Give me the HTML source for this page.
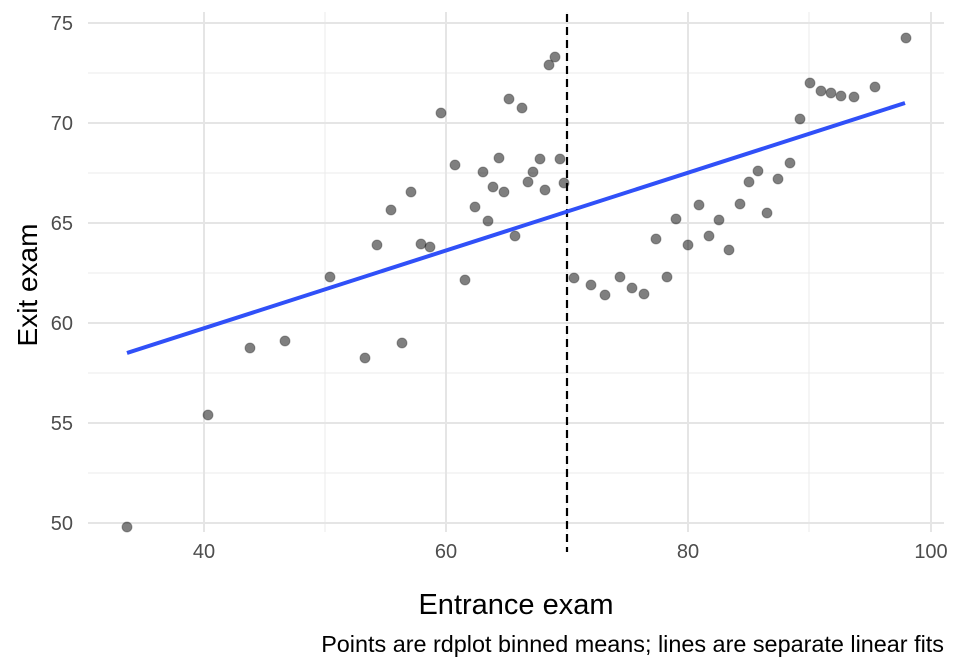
<!DOCTYPE html>
<html><head><meta charset="utf-8"><style>body{margin:0;background:#fff}svg{display:block}text{font-family:"Liberation Sans",Arial,sans-serif}</style></head><body>
<svg width="960" height="672" viewBox="0 0 960 672">
<g stroke="#ebebeb" stroke-width="1">
<line x1="88" x2="944" y1="473" y2="473"/><line x1="88" x2="944" y1="373" y2="373"/><line x1="88" x2="944" y1="273" y2="273"/><line x1="88" x2="944" y1="173" y2="173"/><line x1="88" x2="944" y1="73" y2="73"/>
<line x1="325" x2="325" y1="12" y2="532"/><line x1="567" x2="567" y1="12" y2="532"/><line x1="809" x2="809" y1="12" y2="532"/>
</g>
<g stroke="#e5e5e5" stroke-width="2">
<line x1="88" x2="944" y1="523" y2="523"/><line x1="88" x2="944" y1="423" y2="423"/><line x1="88" x2="944" y1="323" y2="323"/><line x1="88" x2="944" y1="223" y2="223"/><line x1="88" x2="944" y1="123" y2="123"/><line x1="88" x2="944" y1="23" y2="23"/>
<line x1="204" x2="204" y1="12" y2="532"/><line x1="446" x2="446" y1="12" y2="532"/><line x1="688" x2="688" y1="12" y2="532"/><line x1="931" x2="931" y1="12" y2="532"/>
</g>
<line x1="567" x2="567" y1="14" y2="552" stroke="#000" stroke-width="2.2" stroke-dasharray="8,5"/>
<g fill="#000" fill-opacity="0.5" stroke="#000" stroke-opacity="0.3">
<circle cx="127" cy="527" r="5"/><circle cx="208" cy="415" r="5"/><circle cx="250" cy="348" r="5"/><circle cx="285" cy="341" r="5"/><circle cx="330" cy="277" r="5"/><circle cx="365" cy="358" r="5"/><circle cx="377" cy="245" r="5"/><circle cx="391" cy="210" r="5"/><circle cx="402" cy="343" r="5"/><circle cx="411" cy="192" r="5"/><circle cx="421" cy="244" r="5"/><circle cx="430" cy="247" r="5"/><circle cx="441" cy="113" r="5"/><circle cx="455" cy="165" r="5"/><circle cx="465" cy="280" r="5"/><circle cx="475" cy="207" r="5"/><circle cx="483" cy="172" r="5"/><circle cx="488" cy="221" r="5"/><circle cx="493" cy="187" r="5"/><circle cx="499" cy="158" r="5"/><circle cx="504" cy="192" r="5"/><circle cx="509" cy="99" r="5"/><circle cx="515" cy="236" r="5"/><circle cx="522" cy="108" r="5"/><circle cx="528" cy="182" r="5"/><circle cx="533" cy="172" r="5"/><circle cx="540" cy="159" r="5"/><circle cx="545" cy="190" r="5"/><circle cx="549" cy="65" r="5"/><circle cx="555" cy="57" r="5"/><circle cx="560" cy="159" r="5"/><circle cx="564" cy="183" r="5"/><circle cx="574" cy="278" r="5"/><circle cx="591" cy="285" r="5"/><circle cx="605" cy="295" r="5"/><circle cx="620" cy="277" r="5"/><circle cx="632" cy="288" r="5"/><circle cx="644" cy="294" r="5"/><circle cx="656" cy="239" r="5"/><circle cx="667" cy="277" r="5"/><circle cx="676" cy="219" r="5"/><circle cx="688" cy="245" r="5"/><circle cx="699" cy="205" r="5"/><circle cx="709" cy="236" r="5"/><circle cx="719" cy="220" r="5"/><circle cx="729" cy="250" r="5"/><circle cx="740" cy="204" r="5"/><circle cx="749" cy="182" r="5"/><circle cx="758" cy="171" r="5"/><circle cx="767" cy="213" r="5"/><circle cx="778" cy="179" r="5"/><circle cx="790" cy="163" r="5"/><circle cx="800" cy="119" r="5"/><circle cx="810" cy="83" r="5"/><circle cx="821" cy="91" r="5"/><circle cx="831" cy="93" r="5"/><circle cx="841" cy="96" r="5"/><circle cx="854" cy="97" r="5"/><circle cx="875" cy="87" r="5"/><circle cx="906" cy="38" r="5"/>
</g>
<line x1="127" y1="353" x2="905" y2="103" stroke="#3050f8" stroke-width="4"/>
<g fill="#4d4d4d" font-size="20" text-anchor="end">
<text x="73" y="530">50</text><text x="73" y="430">55</text><text x="73" y="330">60</text><text x="73" y="230">65</text><text x="73" y="130">70</text><text x="73" y="30">75</text>
</g>
<g fill="#4d4d4d" font-size="20" text-anchor="middle">
<text x="204" y="558">40</text><text x="446" y="558">60</text><text x="688" y="558">80</text><text x="931" y="558">100</text>
</g>
<text x="516" y="614" font-size="29" text-anchor="middle">Entrance exam</text>
<text transform="translate(37,285) rotate(-90)" font-size="28" text-anchor="middle">Exit exam</text>
<text x="944" y="652" font-size="23.4" text-anchor="end">Points are rdplot binned means; lines are separate linear fits</text>
</svg>
</body></html>
